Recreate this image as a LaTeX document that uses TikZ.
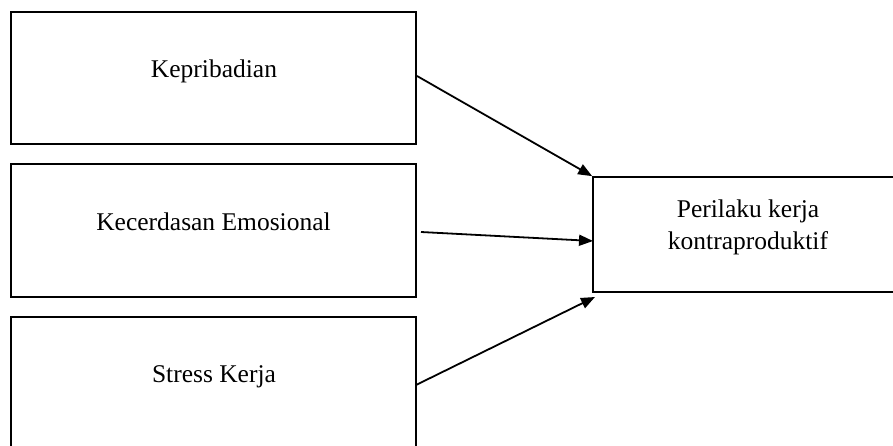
\documentclass[tikz,border=0pt]{standalone}
\usepackage{fontspec}
\setmainfont{Liberation Serif}
\usetikzlibrary{arrows.meta}
\begin{document}
\begin{tikzpicture}[x=1pt,y=-1pt,
  box/.style={draw=black,line width=1.7pt,rectangle,inner sep=0pt},
  lbl/.style={anchor=base,inner sep=0pt,font=\fontsize{25.5}{31}\selectfont},
  conn/.style={line width=1.8pt,-{Triangle[length=14pt,width=11pt]}}]
\clip (0,0) rectangle (893,446);
\fill[white] (0,0) rectangle (893,446);
% boxes
\node[box,minimum width=405pt,minimum height=132pt] (k) at (213.5,78) {};
\node[box,minimum width=405pt,minimum height=133pt] (e) at (213.5,230.5) {};
\node[box,minimum width=405pt,minimum height=160pt] (s) at (213.5,397) {};
\node[box,minimum width=330pt,minimum height=115pt] (p) at (758,234.5) {};
% texts
\node[lbl] (kt) at (214,78) {Kepribadian};
\node[lbl] (et) at (213.5,230) {Kecerdasan Emosional};
\node[lbl] (st) at (214,382) {Stress Kerja};
\node[lbl] (pt1) at (748,218) {Perilaku kerja};
\node[lbl] (pt2) at (748,249) {kontraproduktif};
% connector ends
\coordinate (a1s) at (417,76);
\coordinate (a2s) at (421,232);
\coordinate (a2e) at (593,241);
\coordinate (a3s) at (416,385);
\coordinate (a3e) at (595,297);
\draw[conn] (a1s) -- (p.north west);
\draw[conn] (a2s) -- (a2e);
\draw[conn] (a3s) -- (a3e);
\end{tikzpicture}
\end{document}
